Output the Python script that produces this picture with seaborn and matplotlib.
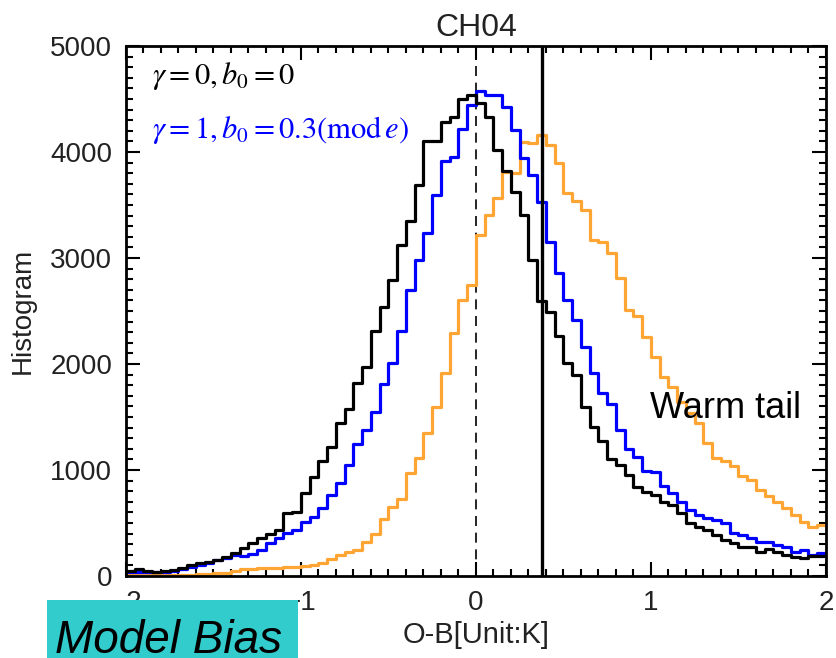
import numpy as np
import pandas as pd
import matplotlib
matplotlib.use("Agg")
import matplotlib.pyplot as plt
import seaborn as sns
from matplotlib.ticker import MultipleLocator
from matplotlib.patches import Rectangle

# ---------------- data ----------------
x_min, x_max, bin_width = -2.0, 2.0, 0.05
vline_solid = 0.375
vline_dashed = 0.0

black_counts = [50, 70, 50, 40, 45, 60, 80, 100, 120, 135,
                150, 180, 215, 260, 315, 355, 400, 435, 590, 605,
                780, 937, 1088, 1214, 1440, 1575, 1818, 1975, 2311, 2541,
                2795, 3123, 3352, 3689, 4104, 4104, 4280, 4335, 4500, 4540,
                4460, 4333, 4019, 3824, 3626, 3406, 2981, 2594, 2490, 2264,
                2006, 1896, 1597, 1409, 1277, 1101, 1047, 953, 837, 790,
                764, 701, 670, 591, 497, 465, 434, 387, 340, 308,
                277, 270, 229, 255, 229, 198, 182, 167, 185, 185]

blue_counts = [40, 40, 40, 40, 40, 45, 63, 82, 104, 120,
               151, 167, 198, 190, 205, 245, 308, 355, 403, 434,
               513, 560, 645, 760, 874, 1047, 1242, 1377, 1550, 1811,
               2006, 2311, 2698, 2978, 3239, 3594, 3920, 3950, 4218, 4440,
               4580, 4538, 4538, 4427, 4208, 3940, 3783, 3531, 3154, 2858,
               2600, 2412, 2163, 1918, 1729, 1623, 1377, 1198, 1120, 993,
               978, 849, 786, 701, 623, 575, 544, 528, 497, 403,
               387, 355, 324, 324, 292, 277, 229, 245, 198, 214]

orange_counts = [10, 10, 10, 10, 10, 10, 10, 12, 15, 20,
                 25, 31, 45, 63, 68, 72, 76, 80, 85, 88,
                 92, 104, 120, 157, 198, 223, 245, 324, 396, 535,
                 648, 723, 969, 1110, 1352, 1591, 1918, 2295, 2600, 2745,
                 3217, 3406, 3563, 3815, 3799, 4097, 4082, 4160, 4066, 3893,
                 3610, 3541, 3453, 3170, 3154, 3050, 2808, 2509, 2450, 2258,
                 2063, 1875, 1780, 1644, 1535, 1440, 1258, 1110, 1088, 1038,
                 943, 906, 811, 755, 701, 638, 575, 512, 465, 481]

series_names = ["black", "blue", "orange"]
series_colors = {"black": "#000000", "blue": "#0000FF", "orange": "#FFA534"}

title = "CH04"
xlabel = "O-B[Unit:K]"
ylabel = "Histogram"
label_black = r"$\gamma=0,b_0=0$"
label_blue = r"$\gamma=1,b_0=0.3(\mathrm{mod}\,e)$"
annot_text = "Warm tail"
box_text = "Model Bias"

# ---------------- build ----------------
n_bins = len(black_counts)
edges = np.linspace(x_min, x_max, n_bins + 1)
centers = (edges[:-1] + edges[1:]) / 2
df = pd.DataFrame({
    "x": np.tile(centers, 3),
    "count": black_counts + blue_counts + orange_counts,
    "series": np.repeat(series_names, n_bins),
})

sns.set_theme(style="ticks")
plt.rcParams["font.family"] = ["Liberation Sans", "DejaVu Sans"]
plt.rcParams["mathtext.fontset"] = "stix"

fig = plt.figure(figsize=(8.36, 6.58), dpi=100)
ax = fig.add_axes([0.1507, 0.1246, 0.8373, 0.8054])

for name in ["orange", "blue", "black"]:
    sub = df[df["series"] == name]
    sns.histplot(data=sub, x="x", weights="count", binwidth=bin_width,
                 binrange=(x_min, x_max),
                 element="step", fill=False, color=series_colors[name],
                 linewidth=2.3, ax=ax)

ax.axvline(vline_dashed, color="black", lw=1.2, dashes=(6, 4), zorder=1)
ax.axvline(vline_solid, color="black", lw=2.4, zorder=5)

ax.set_xlim(x_min, x_max)
ax.set_ylim(0, 5000)
ax.xaxis.set_major_locator(MultipleLocator(1))
ax.xaxis.set_minor_locator(MultipleLocator(0.1))
ax.yaxis.set_major_locator(MultipleLocator(1000))
ax.yaxis.set_minor_locator(MultipleLocator(100))
ax.tick_params(which="both", direction="in", top=True, right=True,
               width=1.5, color="black", labelsize=20, labelcolor="#222222")
ax.tick_params(which="major", length=10, pad=10)
ax.tick_params(which="minor", length=5)
for s in ax.spines.values():
    s.set_linewidth(2.0)
    s.set_color("black")

ax.set_title(title, fontsize=23, pad=7, color="#222222")
ax.set_xlabel(xlabel, fontsize=21, color="#222222", labelpad=4)
ax.set_ylabel(ylabel, fontsize=20, color="#222222", labelpad=10)

ax.text(0.037, 0.943, label_black, transform=ax.transAxes, fontsize=22,
        color="black", ha="left", va="center")
ax.text(0.037, 0.842, label_blue, transform=ax.transAxes, fontsize=22,
        color="#0000FF", ha="left", va="center")
ax.text(0.994, 1585, annot_text, fontsize=26, color="black",
        ha="left", va="center")

fig.patches.append(Rectangle((0.0562, 0.0), 0.3003, 0.0881,
                             transform=fig.transFigure, facecolor="#33CCCC",
                             edgecolor="none", zorder=10))
fig.text(0.066, 0.008, box_text, fontsize=33, style="italic", color="black",
         ha="left", va="baseline", zorder=11)

fig.savefig("out.png", dpi=100)
